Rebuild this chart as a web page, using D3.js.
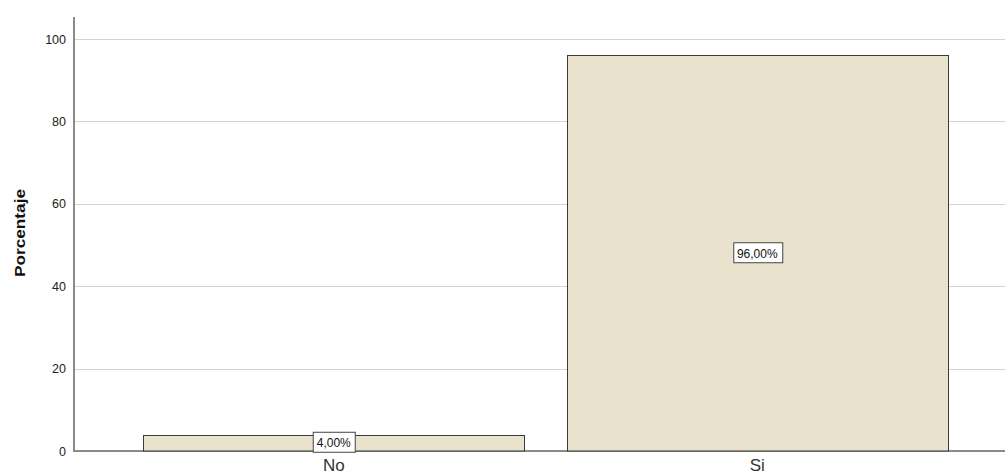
<!DOCTYPE html>
<html>
<head>
<meta charset="utf-8">
<script src="https://cdn.jsdelivr.net/npm/d3@7"></script>
<style>
  html, body { margin: 0; padding: 0; background: #fff; }
  svg { display: block; font-family: Arial, "Liberation Sans", sans-serif; }
</style>
</head>
<body>
<svg id="chart" width="1005" height="475"></svg>
<script>
// Respuestas y porcentajes
const categories = ["No", "Si"];
const percentages = [4.00, 96.00];
const yTicks = [0, 20, 40, 60, 80, 100];
const yTitle = "Porcentaje";

const svg = d3.select("#chart");
const W = 1005;
const axisX = 74, axisTop = 17, baseY = 451;

const y = d3.scaleLinear().domain([0, 100]).range([baseY, 39]);
const x = d3.scaleBand().domain(categories).range([122, 969])
  .paddingInner(0.1).paddingOuter(0.05);

// Horizontal grid lines
svg.append("g").selectAll("line").data(yTicks.filter(d => d > 0)).join("line")
  .attr("x1", axisX).attr("x2", W)
  .attr("y1", d => Math.round(y(d)) + 0.5).attr("y2", d => Math.round(y(d)) + 0.5)
  .attr("stroke", "#d2d2d2").attr("stroke-width", 1.2);

// Y axis: labels only, plus a plain vertical rule
const yAxis = d3.axisLeft(y).tickValues(yTicks).tickSize(0).tickPadding(8);
const gy = svg.append("g").attr("transform", `translate(${axisX},0)`).call(yAxis);
gy.select(".domain").remove();
gy.selectAll("text").attr("font-size", 12.5).attr("fill", "#222")
  .attr("font-family", "Arial, 'Liberation Sans', sans-serif");

svg.append("line").attr("x1", axisX).attr("x2", axisX)
  .attr("y1", axisTop).attr("y2", baseY + 1)
  .attr("stroke", "#8a8a8a").attr("stroke-width", 2);
svg.append("line").attr("x1", axisX).attr("x2", W)
  .attr("y1", baseY).attr("y2", baseY)
  .attr("stroke", "#8a8a8a").attr("stroke-width", 2);

// Bars
svg.append("g").selectAll("rect").data(categories).join("rect")
  .attr("x", d => Math.round(x(d)) + 0.5)
  .attr("width", Math.round(x.bandwidth()))
  .attr("y", (d, i) => Math.round(y(percentages[i])) + 0.5)
  .attr("height", (d, i) => baseY - Math.round(y(percentages[i])) - 0.5)
  .attr("fill", "#e9e3cd").attr("stroke", "#3a3a3a").attr("stroke-width", 1);

// X axis category labels
const xAxis = d3.axisBottom(x).tickSize(0).tickPadding(8);
const gx = svg.append("g").attr("transform", `translate(0,${baseY})`).call(xAxis);
gx.select(".domain").remove();
gx.selectAll("text").attr("font-size", 17).attr("fill", "#333")
  .attr("font-family", "Arial, 'Liberation Sans', sans-serif")
  .attr("dy", "0.71em").attr("y", 8);

// Value labels in boxes at the middle of each bar
const lab = svg.append("g").selectAll("g").data(categories).join("g")
  .attr("transform", (d, i) => `translate(${x(d) + x.bandwidth() / 2},${y(percentages[i] / 2)})`);
lab.append("text")
  .attr("text-anchor", "middle").attr("dy", "0.36em")
  .attr("font-size", 12).attr("fill", "#111")
  .text((d, i) => percentages[i].toFixed(2).replace(".", ",") + "%");
lab.each(function () {
  const g = d3.select(this);
  const bb = g.select("text").node().getBBox();
  g.insert("rect", "text")
    .attr("x", Math.round(bb.x - 4) + 0.5).attr("y", -10.5)
    .attr("width", Math.round(bb.width + 8)).attr("height", 20)
    .attr("fill", "#fff").attr("stroke", "#444").attr("stroke-width", 1);
});

// Y axis title
svg.append("text")
  .attr("transform", "translate(25,233) rotate(-90)")
  .attr("text-anchor", "middle")
  .attr("font-size", 15).attr("font-weight", "bold").attr("fill", "#111")
  .attr("textLength", 88).attr("lengthAdjust", "spacingAndGlyphs")
  .text(yTitle);
</script>
</body>
</html>
